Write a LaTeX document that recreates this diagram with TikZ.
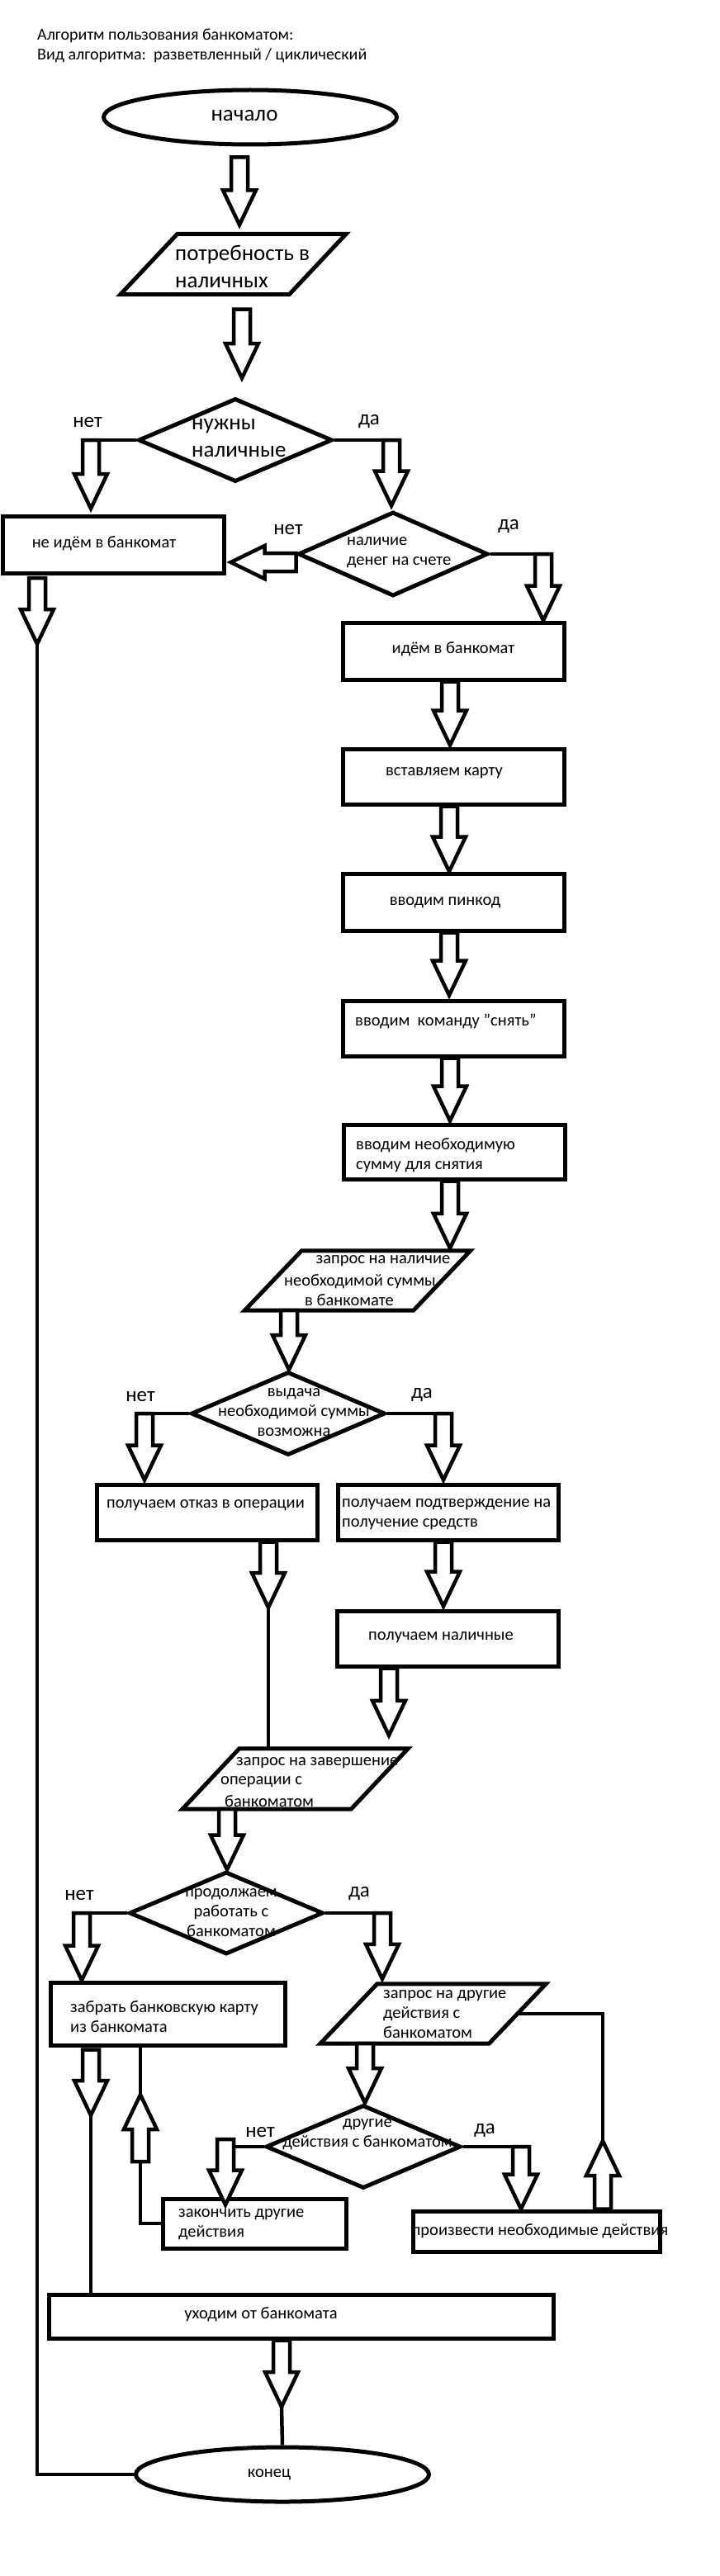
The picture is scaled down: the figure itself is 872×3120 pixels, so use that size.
\documentclass[tikz,border=0pt]{standalone}
\usepackage{fontspec}
\setmainfont{Carlito}
\usetikzlibrary{shapes.geometric,calc}
\newcommand\darr[2]{\draw[barr] let \p1=(#1),\p2=(#2) in (\x2-10pt,\y1) -- (\x2-10pt,\y2+42pt) -- (\x2-20pt,\y2+42pt) -- (\x2,\y2) -- (\x2+20pt,\y2+42pt) -- (\x2+10pt,\y2+42pt) -- (\x2+10pt,\y1) -- cycle;}
\newcommand\uarr[2]{\draw[barr] let \p1=(#1),\p2=(#2) in (\x2-10pt,\y1) -- (\x2-10pt,\y2-42pt) -- (\x2-20pt,\y2-42pt) -- (\x2,\y2) -- (\x2+20pt,\y2-42pt) -- (\x2+10pt,\y2-42pt) -- (\x2+10pt,\y1) -- cycle;}
\newcommand\larr[2]{\draw[barr] let \p1=(#1),\p2=(#2) in (\x1,\y2-11pt) -- (\x2+41pt,\y2-11pt) -- (\x2+41pt,\y2-20pt) -- (\x2,\y2) -- (\x2+41pt,\y2+20pt) -- (\x2+41pt,\y2+11pt) -- (\x1,\y2+11pt) -- cycle;}
\newcommand\paradraw[1]{\draw[shp] ($(#1.north west)+(34.5,0)$) -- ($(#1.north east)+(34.5,0)$) -- ($(#1.south east)+(-34.5,0)$) -- ($(#1.south west)+(-34.5,0)$) -- cycle;}
\begin{document}
\begin{tikzpicture}[x=1pt,y=-1pt,
  shp/.style={draw, line width=5pt, line join=miter},
  rect/.style={draw, line width=5pt, inner sep=0pt, rectangle},
  term/.style={draw, line width=5pt, ellipse, inner sep=0pt, minimum width=355pt, minimum height=66pt},
  dia/.style={draw, line width=5pt, diamond, inner sep=0pt, minimum width=235pt, minimum height=101pt},
  pbox/.style={inner sep=0pt, minimum width=204pt, minimum height=73pt},
  barr/.style={draw, line width=4.5pt, fill=white, line join=miter},
  conn/.style={line width=4.5pt},
  tbig/.style={font=\fontsize{27}{33}\selectfont, inner sep=0pt},
  tmid/.style={font=\fontsize{20.5}{24}\selectfont, inner sep=0pt},
  tlab/.style={font=\fontsize{25}{30}\selectfont, inner sep=0pt},
  ttitle/.style={font=\fontsize{20}{24}\selectfont, inner sep=0pt}]
\useasboundingbox (0,0) rectangle (872,3120);
\fill[white] (0,0) rectangle (872,3120);
% title
\node[ttitle, anchor=west] (title1) at (45,43) {Алгоритм пользования банкоматом:};
\node[ttitle, anchor=west] (title2) at (45,67) {Вид алгоритма:\ \ разветвленный / циклический};
% start
\node[term] (start) at (303,142) {};
\node[tbig] (startt) at (296,140) {начало};
% input 1
\node[pbox] (pot) at (282.5,320) {};
\paradraw{pot}
\node[tbig, align=left, anchor=west] (pott) at (212,323) {потребность в\\наличных};
\darr{$(start.south -| 290,0)+(0,13)$}{$(pot.north -| 290,0)+(0,-11)$}
% decision 1
\node[dia] (d1) at (285,533) {};
\node[tbig, align=left, anchor=west] (d1t) at (232,531) {нужны\\наличные};
\darr{$(pot.south -| 293,0)+(0,18)$}{$(d1.north -| 293,0)+(0,-22)$}
\node[tlab] (n1) at (106,512) {нет};
\node[tlab] (y1) at (447,510) {да};
% no -> b0
\node[rect, minimum width=268pt, minimum height=69pt] (b0) at (137,660) {};
\node[tmid] (b0t) at (126,658) {не идём в банкомат};
\draw[conn] (d1.west) -- (d1.west -| 100,0);
\darr{d1.west -| 110,0}{$(b0.north -| 110,0)+(0,-7)$}
% decision 2
\node[dia, minimum width=230pt, minimum height=102pt] (d2) at (476,671) {};
\node[tmid, align=left, anchor=west] (d2t) at (420,669) {наличие\\денег на счете};
\draw[conn] (d1.east) -- (d1.east -| 483,0);
\darr{d1.east -| 474,0}{$(d2.north -| 474,0)+(0,-5)$}
\node[tlab] (n2) at (349,642) {нет};
\node[tlab] (y2) at (616,637) {да};
\larr{d2.west}{$(b0.east)+(6,21)$}
% yes -> b1..b5
\node[rect, minimum width=268pt, minimum height=69pt] (b1) at (549,788.5) {};
\node[tmid] (b1t) at (549,786) {идём в банкомат};
\draw[conn] (d2.east) -- (d2.east -| 668,0);
\darr{d2.east -| 658,0}{b1.north -| 658,0}
\node[rect, minimum width=268pt, minimum height=67pt] (b2) at (549,940.5) {};
\node[tmid] (b2t) at (538,936) {вставляем карту};
\darr{b1.south -| 545,0}{$(b2.north -| 545,0)+(0,-2)$}
\node[rect, minimum width=268pt, minimum height=69pt] (b3) at (549,1092.5) {};
\node[tmid] (b3t) at (539,1093) {вводим пинкод};
\darr{b2.south -| 544,0}{b3.north -| 544,0}
\node[rect, minimum width=268pt, minimum height=67pt] (b4) at (549,1245.5) {};
\node[tmid, anchor=west] (b4t) at (430,1237) {вводим\ \ команду "снять"};
\darr{b3.south -| 544,0}{$(b4.north -| 544,0)+(0,-4)$}
\node[rect, minimum width=268pt, minimum height=66pt] (b5) at (550,1395) {};
\node[tmid, align=left, anchor=west] (b5t) at (431,1399) {вводим необходимую\\сумму для снятия};
\darr{b4.south -| 545,0}{$(b5.north -| 545,0)+(0,-2)$}
% input 2
\node[pbox, minimum height=72pt] (p2) at (433,1551) {};
\paradraw{p2}
\node[tmid] (p2a) at (464,1527) {запрос на наличие};
\node[tmid] (p2b) at (436,1552) {необходимой суммы};
\node[tmid] (p2c) at (423,1575) {в банкомате};
\darr{b5.south -| 545,0}{$(p2.north -| 545,0)+(0,-3)$}
% decision 3
\node[dia] (d3) at (349,1712) {};
\node[tmid, align=center] (d3t) at (356,1711) {выдача\\необходимой суммы\\возможна};
\darr{p2.south -| 350,0}{d3.north -| 350,0}
\node[tlab] (n3) at (170,1692) {нет};
\node[tlab] (y3) at (511,1689) {да};
\node[rect, minimum width=267pt, minimum height=67pt] (b6) at (250.5,1831.5) {};
\node[tmid] (b6t) at (249,1823) {получаем отказ в операции};
\node[rect, minimum width=267pt, minimum height=67pt] (b7) at (542.5,1831.5) {};
\node[tmid, align=left, anchor=west] (b7t) at (414,1834) {получаем подтверждение на\\получение средств};
\draw[conn] (d3.west) -- (d3.west -| 165,0);
\darr{d3.west -| 175,0}{$(b6.north -| 175,0)+(0,-3)$}
\draw[conn] (d3.east) -- (d3.east -| 547,0);
\darr{d3.east -| 537,0}{$(b7.north -| 537,0)+(0,-3)$}
% b8
\node[rect, minimum width=268pt, minimum height=67pt] (b8) at (542,1984.5) {};
\node[tmid] (b8t) at (534,1983) {получаем наличные};
\darr{b7.south -| 537,0}{$(b8.north -| 537,0)+(0,-3)$}
% input 3
\node[pbox] (p3) at (357.5,2154.5) {};
\paradraw{p3}
\node[tmid, anchor=west] (p3a) at (286,2135) {запрос на завершение};
\node[tmid, anchor=west] (p3b) at (267,2158) {операции с};
\node[tmid, anchor=west] (p3c) at (272,2182) {банкоматом};
\coordinate (j1) at (325,1947);
\darr{b6.south -| 325,0}{j1}
\draw[conn] (j1) -- (j1 |- p3.north);
\darr{b8.south -| 471,0}{$(p3.north -| 471,0)+(0,-16)$}
% decision 4
\node[dia, minimum height=100pt] (d4) at (274,2317) {};
\node[tmid, align=center] (d4t) at (280,2317) {продолжаем\\работать с\\банкоматом};
\darr{p3.south -| 275,0}{d4.north -| 275,0}
\node[tlab] (n4) at (96,2295) {нет};
\node[tlab] (y4) at (435,2293) {да};
\node[rect, minimum width=284pt, minimum height=76pt] (b9) at (203,2439) {};
\node[tmid, align=left, anchor=west] (b9t) at (85,2443) {забрать банковскую карту\\из банкомата};
\node[pbox, minimum height=72pt] (p4) at (524.5,2439) {};
\paradraw{p4}
\node[tmid, align=left, anchor=west] (p4t) at (464,2440) {запрос на другие\\действия с\\банкоматом};
\draw[conn] (d4.west) -- (d4.west -| 89,0);
\darr{d4.west -| 99,0}{b9.north -| 99,0}
\draw[conn] (d4.east) -- (d4.east -| 472,0);
\darr{d4.east -| 463,0}{$(p4.north -| 463,0)+(0,-6)$}
% decision 5
\node[dia, minimum width=236pt] (d5) at (440,2600) {};
\node[tmid, align=center] (d5t) at (445,2585) {другие\\действия с банкоматом};
\darr{p4.south -| 442,0}{d5.north -| 442,0}
\node[tlab] (n5) at (315,2582) {нет};
\node[tlab] (y5) at (587,2580) {да};
\node[rect, minimum width=222pt, minimum height=60pt] (b10) at (308,2693) {};
\node[tmid, align=left, anchor=west] (b10t) at (216,2694) {закончить другие\\действия};
\draw[conn] (d5.west) -- (d5.west -| 264,0);
\darr{$(d5.west -| 273,0)+(0,-9)$}{$(b10.north -| 273,0)+(0,10)$}
\node[rect, minimum width=299pt, minimum height=49pt] (b11) at (649.5,2702.5) {};
\node[tmid] (b11t) at (654,2702) {произвести необходимые действия};
\draw[conn] (d5.east) -- (d5.east -| 641,0);
\darr{d5.east -| 631,0}{b11.north -| 631,0}
% loop up arrows
\coordinate (j2) at (b10.west -| 170,0);
\coordinate (j3) at (170,2618);
\coordinate (j4) at (170,2537);
\draw[conn] (b10.west) -- (j2) -- (j3);
\uarr{j3}{j4}
\draw[conn] (j4) -- (j4 |- b9.south);
\coordinate (j5) at (730,2593);
\uarr{b11.north -| 730,0}{j5}
\draw[conn] (j5) -- (j5 |- p4.east) -- (p4.east);
% leave
\node[rect, minimum width=611pt, minimum height=53pt] (b12) at (364.5,2805.5) {};
\node[tmid] (b12t) at (316,2803) {уходим от банкомата};
\coordinate (j6) at (110,2562);
\darr{$(b9.south -| 110,0)+(0,3)$}{j6}
\draw[conn] (j6) -- (j6 |- b12.north);
% end
\node[term] (end) at (342,2997) {};
\node[tmid] (endt) at (326,2997) {конец};
\coordinate (j7) at (341,2915);
\darr{b12.south -| 341,0}{j7}
\draw[conn] (j7) -- (end.north);
\coordinate (j8) at (45,780);
\darr{$(b0.south -| 45,0)+(0,3)$}{j8}
\draw[conn] (j8) -- (j8 |- end.west) -- (end.west);
\end{tikzpicture}
\end{document}
